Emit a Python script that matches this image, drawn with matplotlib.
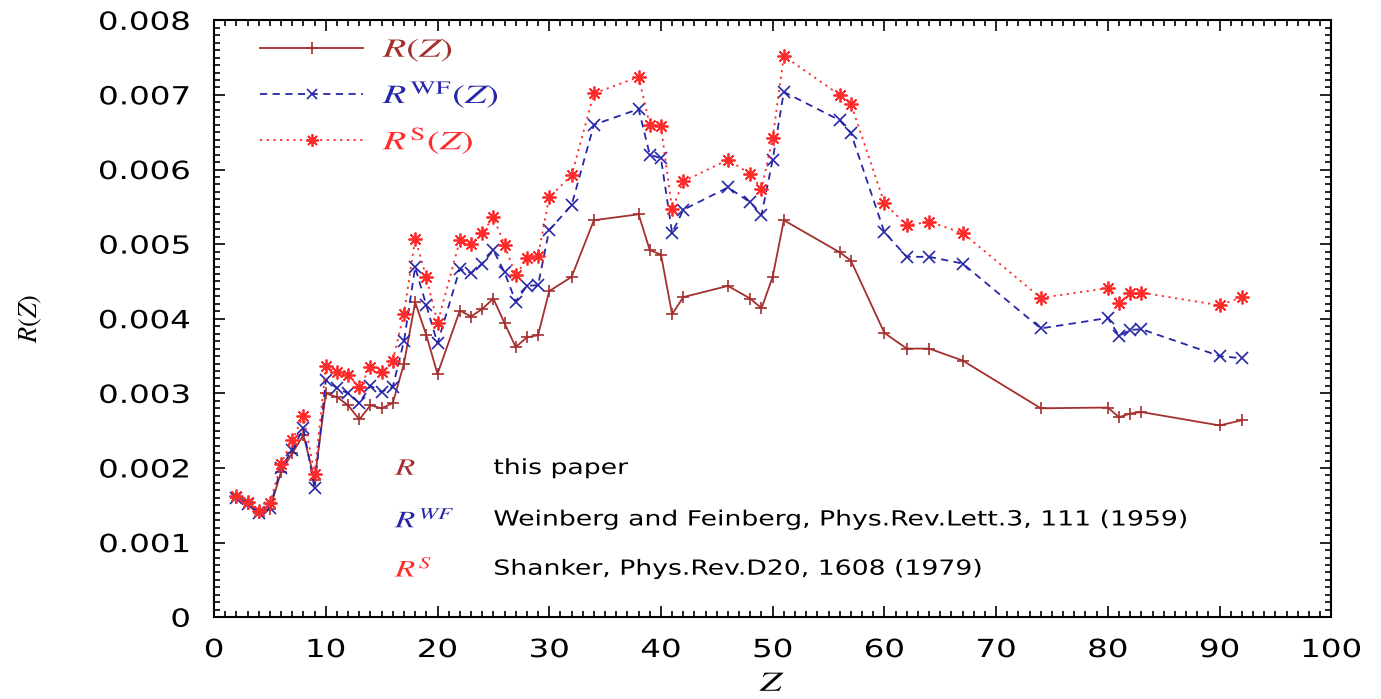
import numpy as np
import matplotlib
matplotlib.use("Agg")
import matplotlib.pyplot as plt
from matplotlib.ticker import MultipleLocator
from matplotlib.patheffects import AbstractPathEffect
from matplotlib.transforms import Affine2D

# atomic number of each nucleus
Z = [2, 3, 4, 5, 6, 7, 8, 9, 10, 11, 12, 13, 14, 15, 16, 17, 18, 19, 20,
     22, 23, 24, 25, 26, 27, 28, 29, 30, 32, 34, 38, 39, 40, 41, 42, 46,
     48, 49, 50, 51, 56, 57, 60, 62, 64, 67, 74, 80, 81, 82, 83, 90, 92]

# conversion ratios, in units of 1e-3
R_this = [1.60, 1.52, 1.39, 1.45, 1.95, 2.20, 2.44, 1.84, 3.00, 2.95, 2.84,
          2.65, 2.84, 2.80, 2.87, 3.40, 4.22, 3.78, 3.26, 4.11, 4.03, 4.13,
          4.27, 3.94, 3.62, 3.75, 3.78, 4.37, 4.56, 5.32, 5.40, 4.92, 4.86,
          4.06, 4.29, 4.44, 4.27, 4.14, 4.56, 5.32, 4.89, 4.78, 3.81, 3.60,
          3.60, 3.44, 2.80, 2.81, 2.68, 2.73, 2.75, 2.57, 2.64]
R_wf = [1.60, 1.52, 1.40, 1.47, 2.00, 2.24, 2.53, 1.73, 3.18, 3.07, 3.00,
        2.87, 3.10, 3.02, 3.09, 3.70, 4.69, 4.18, 3.67, 4.67, 4.61, 4.74,
        4.92, 4.62, 4.23, 4.44, 4.45, 5.19, 5.52, 6.60, 6.81, 6.20, 6.15,
        5.15, 5.46, 5.76, 5.56, 5.39, 6.13, 7.04, 6.66, 6.49, 5.16, 4.83,
        4.83, 4.74, 3.87, 4.01, 3.77, 3.85, 3.86, 3.50, 3.47]
R_s = [1.62, 1.55, 1.42, 1.53, 2.06, 2.37, 2.70, 1.92, 3.36, 3.28, 3.24,
       3.08, 3.35, 3.28, 3.44, 4.07, 5.07, 4.56, 3.94, 5.05, 5.00, 5.15,
       5.36, 4.99, 4.58, 4.81, 4.84, 5.63, 5.92, 7.02, 7.24, 6.60, 6.58,
       5.47, 5.84, 6.13, 5.94, 5.74, 6.42, 7.52, 7.00, 6.88, 5.55, 5.25,
       5.30, 5.15, 4.28, 4.41, 4.21, 4.34, 4.35, 4.18, 4.29]

ytick_vals = [0, 0.001, 0.002, 0.003, 0.004, 0.005, 0.006, 0.007, 0.008]
ytick_text = ["0", "0.001", "0.002", "0.003", "0.004", "0.005", "0.006",
              "0.007", "0.008"]

c_this = "#a3302e"
c_wf = "#2626a8"
c_s = "#ff2a2a"


class Widen(AbstractPathEffect):
    """Draw text glyphs stretched horizontally about a chosen anchor."""

    def __init__(self, sx, anchor="left"):
        super().__init__()
        self.sx = sx
        self.anchor = anchor

    def draw_path(self, renderer, gc, tpath, affine, rgbFace=None):
        ext = tpath.get_extents()
        if self.anchor == "right":
            x0 = ext.x1
        elif self.anchor == "center":
            x0 = 0.5 * (ext.x0 + ext.x1)
        else:
            x0 = 0.0
        t = Affine2D().translate(-x0, 0).scale(self.sx, 1).translate(x0, 0)
        renderer.draw_path(gc, tpath, t + affine, rgbFace)


plt.rcParams["font.family"] = "DejaVu Sans"
plt.rcParams["mathtext.fontset"] = "stix"

fig = plt.figure(figsize=(13.81, 6.99), dpi=100)
ax = fig.add_axes([0.155, 0.117, 0.809, 0.854])

z = np.array(Z)
ax.plot(z, np.array(R_this) * 1e-3, color=c_this, lw=1.3, ls="-",
        marker="+", ms=9, mew=1.2, label=r"$R(Z)$")
ax.plot(z, np.array(R_wf) * 1e-3, color=c_wf, lw=1.3, ls=(0, (4, 3)),
        marker="x", ms=8, mew=1.2, label=r"$R^{\rm WF}(Z)$")
ax.plot(z, np.array(R_s) * 1e-3, color=c_s, lw=1.3, ls=(0, (1.2, 2.5)),
        marker=(8, 2, 0), ms=10, mew=1.3, label=r"$R^{\rm S}(Z)$")

ax.set_xlim(0, 100)
ax.set_ylim(0, 0.008)
ax.xaxis.set_major_locator(MultipleLocator(10))
ax.xaxis.set_minor_locator(MultipleLocator(1))
ax.set_yticks(ytick_vals)
ax.set_yticklabels(ytick_text)
ax.yaxis.set_minor_locator(MultipleLocator(0.0001))
ax.tick_params(which="both", direction="in", top=True, right=True,
               labelsize=18, width=1.2)
ax.tick_params(which="major", length=8)
ax.tick_params(which="minor", length=4)
ax.tick_params(axis="y", pad=17)
ax.tick_params(axis="x", pad=15)
for s in ax.spines.values():
    s.set_linewidth(1.5)

for lab in ax.get_yticklabels():
    lab.set_path_effects([Widen(1.3, "right")])
for lab in ax.get_xticklabels():
    lab.set_path_effects([Widen(1.3, "center")])

ax.set_xlabel(r"$Z$", fontsize=20, labelpad=5,
              path_effects=[Widen(1.4, "center")])
ax.set_ylabel(r"$R(Z)$", fontsize=19)
ax.yaxis.set_label_coords(-0.152, 0.5)

leg = ax.legend(loc="upper left", bbox_to_anchor=(0.02, 1.012), frameon=False,
                fontsize=19, handlelength=3.9, handletextpad=0.75,
                labelspacing=0.62, labelcolor="linecolor", markerscale=0.9)
for t in leg.get_texts():
    t.set_path_effects([Widen(1.45)])

# reference key written inside the axes
refs = [(r"$R$", c_this, 0.00200, "this paper"),
        (r"$R^{WF}$", c_wf, 0.00131,
         "Weinberg and Feinberg, Phys.Rev.Lett.3, 111 (1959)"),
        (r"$R^{S}$", c_s, 0.00065, "Shanker, Phys.Rev.D20, 1608 (1979)")]
for sym, col, yv, txt in refs:
    ax.text(16.2, yv, sym, color=col, fontsize=17, va="center", ha="left",
            path_effects=[Widen(1.4)])
    ax.text(25.0, yv, txt, color="black", fontsize=15, va="center", ha="left",
            path_effects=[Widen(1.28)])

fig.savefig("out.png", dpi=100)
